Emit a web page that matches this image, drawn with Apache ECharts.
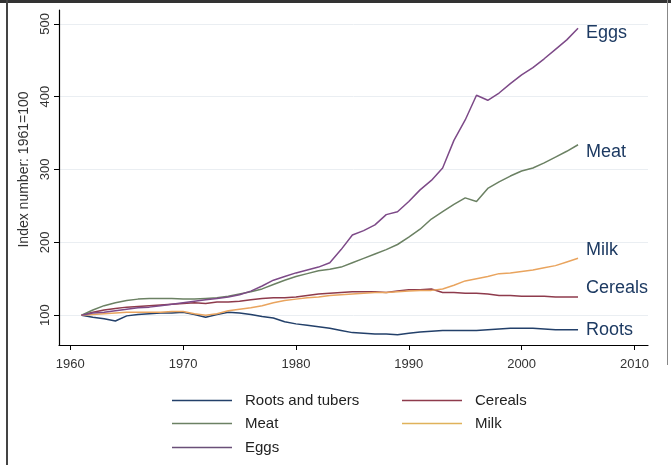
<!DOCTYPE html>
<html>
<head>
<meta charset="utf-8">
<script src="https://cdn.jsdelivr.net/npm/echarts@6/dist/echarts.min.js"></script>
<style>
  html, body { margin: 0; padding: 0; background: #ffffff; }
  #chart { width: 671px; height: 465px; }
</style>
</head>
<body>
<div id="chart"></div>
<script>
// Food production index by commodity group, 1961 = 100
const years = [1961, 1962, 1963, 1964, 1965, 1966, 1967, 1968, 1969, 1970,
               1971, 1972, 1973, 1974, 1975, 1976, 1977, 1978, 1979, 1980,
               1981, 1982, 1983, 1984, 1985, 1986, 1987, 1988, 1989, 1990,
               1991, 1992, 1993, 1994, 1995, 1996, 1997, 1998, 1999, 2000,
               2001, 2002, 2003, 2004, 2005];

const roots = [100, 97, 95, 92, 99, 101, 102, 103, 103, 104,
               101, 97, 101, 104, 103, 101, 98, 96, 91, 88,
               86, 84, 82, 79, 76, 75, 74, 74, 73, 75,
               77, 78, 79, 79, 79, 79, 80, 81, 82, 82,
               82, 81, 80, 80, 80];

const cereals = [100, 104, 107, 109, 111, 112, 113, 114, 115, 116,
                 117, 116, 118, 118, 119, 121, 123, 124, 124, 125,
                 127, 129, 130, 131, 132, 132, 132, 131, 133, 135,
                 135, 136, 131, 131, 130, 130, 129, 127, 127, 126,
                 126, 126, 125, 125, 125];

const meat = [100, 107, 113, 117, 120, 122, 123, 123, 123, 122,
              122, 123, 124, 126, 129, 132, 136, 142, 148, 153,
              157, 161, 163, 166, 172, 178, 184, 190, 197, 207,
              218, 232, 242, 252, 261, 256, 274, 283, 291, 298,
              302, 309, 317, 325, 334];

const milk = [100, 101, 102, 103, 104, 104, 104, 104, 105, 105,
              102, 100, 102, 106, 108, 110, 113, 117, 120, 122,
              124, 125, 127, 128, 129, 130, 131, 131, 132, 133,
              134, 134, 136, 141, 147, 150, 153, 157, 158, 160,
              162, 165, 168, 173, 178];

const eggs = [100, 103, 104, 106, 108, 110, 111, 113, 115, 117,
              119, 121, 123, 125, 128, 133, 140, 148, 153, 158,
              162, 166, 172, 190, 210, 216, 224, 238, 242, 256,
              272, 285, 302, 340, 368, 402, 395, 405, 418, 430,
              440, 452, 465, 478, 494];

const xTicks = [1960, 1970, 1980, 1990, 2000, 2010];
const yTicks = [100, 200, 300, 400, 500];

const seriesDefs = [
  { name: 'Roots and tubers', short: 'Roots',   values: roots,   color: '#23406a', labelShift: 0 },
  { name: 'Cereals',          short: 'Cereals', values: cereals, color: '#8e3b4c', labelShift: -9 },
  { name: 'Meat',             short: 'Meat',    values: meat,    color: '#6b8163', labelShift: 7 },
  { name: 'Milk',             short: 'Milk',    values: milk,    color: '#e9a45e', labelShift: -8 },
  { name: 'Eggs',             short: 'Eggs',    values: eggs,    color: '#7d4a88', labelShift: 5 }
];

const FONT = '"Liberation Sans", Arial, sans-serif';

// faint horizontal guide lines at each y tick, kept beneath the data lines
const series = [{
  type: 'line',
  data: [],
  silent: true,
  z: 0,
  markLine: {
    silent: true,
    z: 0,
    symbol: 'none',
    animation: false,
    label: { show: false },
    lineStyle: { color: '#eaeef2', width: 1, type: 'solid' },
    data: yTicks.map(function (v) { return { yAxis: v }; })
  }
}];

seriesDefs.forEach(function (d) {
  series.push({
    name: d.name,
    type: 'line',
    z: 3,
    data: years.map(function (y, i) { return [y, d.values[i]]; }),
    showSymbol: false,
    symbol: 'none',
    lineStyle: { color: d.color, width: 1.5 },
    itemStyle: { color: d.color },
    animation: false,
    endLabel: {
      show: true,
      formatter: d.short,
      color: '#1d3a62',
      fontFamily: FONT,
      fontSize: 18,
      distance: 8,
      offset: [0, d.labelShift]
    }
  });
});

function legendItem(name, color, left, top) {
  return {
    data: [{ name: name, itemStyle: { color: color } }],
    left: left,
    top: top,
    icon: 'rect',
    itemWidth: 60,
    itemHeight: 1.5,
    itemGap: 0,
    padding: 0,
    textStyle: { fontFamily: FONT, fontSize: 15, color: '#222222', padding: [0, 0, 0, 8] },
    selectedMode: false
  };
}

const option = {
  backgroundColor: '#ffffff',
  animation: false,
  grid: { left: 59, right: 23, top: 10, bottom: 120, containLabel: false },
  xAxis: {
    type: 'value',
    min: 1959,
    max: 2011.2,
    axisLine: { show: true, lineStyle: { color: '#000000', width: 1.2 } },
    axisTick: { show: true, customValues: xTicks, length: 5, inside: false, lineStyle: { color: '#000000' } },
    axisLabel: {
      customValues: xTicks,
      formatter: function (v) { return String(v); },
      fontFamily: FONT, fontSize: 13, color: '#333333', margin: 13
    },
    splitLine: { show: false }
  },
  yAxis: {
    type: 'value',
    min: 59,
    max: 519,
    name: 'Index number: 1961=100',
    nameLocation: 'middle',
    nameRotate: 90,
    nameGap: 17,
    nameTextStyle: { fontFamily: FONT, fontSize: 14, color: '#333333', padding: [0, 0, 0, 16] },
    axisLine: { show: true, lineStyle: { color: '#000000', width: 1.2 } },
    axisTick: { show: true, customValues: yTicks, length: 5, lineStyle: { color: '#000000' } },
    axisLabel: {
      customValues: yTicks,
      formatter: function (v) { return String(v); },
      rotate: 90, fontFamily: FONT, fontSize: 13, color: '#333333', margin: 7
    },
    splitLine: { show: false }
  },
  legend: [
    legendItem('Roots and tubers', '#23406a', 172, 393),
    legendItem('Cereals', '#8e3b4c', 402, 393),
    legendItem('Meat', '#6b8163', 172, 416),
    legendItem('Milk', '#e0b25a', 402, 416),
    legendItem('Eggs', '#6a4f78', 172, 440)
  ],
  graphic: [
    { type: 'rect', shape: { x: 0, y: 0, width: 671, height: 3 }, style: { fill: '#333333' }, silent: true },
    { type: 'rect', shape: { x: 6, y: 0, width: 2, height: 465 }, style: { fill: '#444444' }, silent: true },
    { type: 'rect', shape: { x: 667, y: 0, width: 1, height: 365 }, style: { fill: '#888888' }, silent: true }
  ],
  series: series
};

const chart = echarts.init(document.getElementById('chart'), null, { renderer: 'canvas' });
chart.setOption(option);
</script>
</body>
</html>
